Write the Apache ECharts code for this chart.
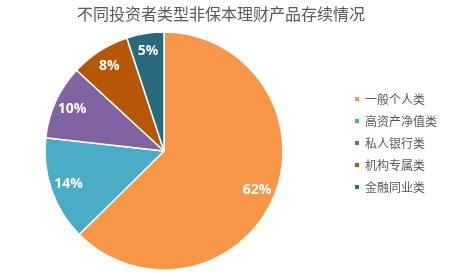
<!DOCTYPE html>
<html><head><meta charset="utf-8">
<script src="https://cdn.jsdelivr.net/npm/echarts@6/dist/echarts.min.js"></script>
<style>html,body{margin:0;padding:0;background:#fff}#c{width:451px;height:273px}</style>
</head><body><div id="c"></div>
<script>
const categories = ['一般个人类','高资产净值类','私人银行类','机构专属类','金融同业类'];
const values = [62, 14, 10, 8, 5];
const colors = ['#F79646','#4BACC6','#8064A2','#B65708','#276A7C'];
const titleText = '不同投资者类型非保本理财产品存续情况';
const data = categories.map((n,i)=>({name:n,value:values[i]}));
const chart = echarts.init(document.getElementById('c'));
chart.setOption({
  animation:false,
  color: colors,
  title:{text:titleText,left:216,textAlign:'center',top:1,textStyle:{fontSize:16,fontWeight:'normal',color:'#595959',fontFamily:'Noto Sans CJK SC'}},
  legend:{orient:'vertical',left:348,top:88,itemWidth:6,itemHeight:6,itemGap:10,icon:'rect',
    textStyle:{fontSize:12,color:'#595959',fontFamily:'Noto Sans CJK SC'},data:categories},
  series:[
    {type:'pie',center:[164,151],radius:[0,119],startAngle:90,clockwise:true,
     data:data,label:{show:false},labelLine:{show:false},
     itemStyle:{borderColor:'#fff',borderWidth:1.5}},
    {type:'pie',center:[164,151],radius:[77,119],startAngle:90,clockwise:true,silent:true,
     data:data,itemStyle:{color:'rgba(0,0,0,0)'},labelLine:{show:false},
     label:{show:true,position:'inside',formatter:'{c}%',color:'#fff',fontSize:14,fontWeight:'bold',fontFamily:'Open Sans'}}
  ]
});
</script></body></html>
